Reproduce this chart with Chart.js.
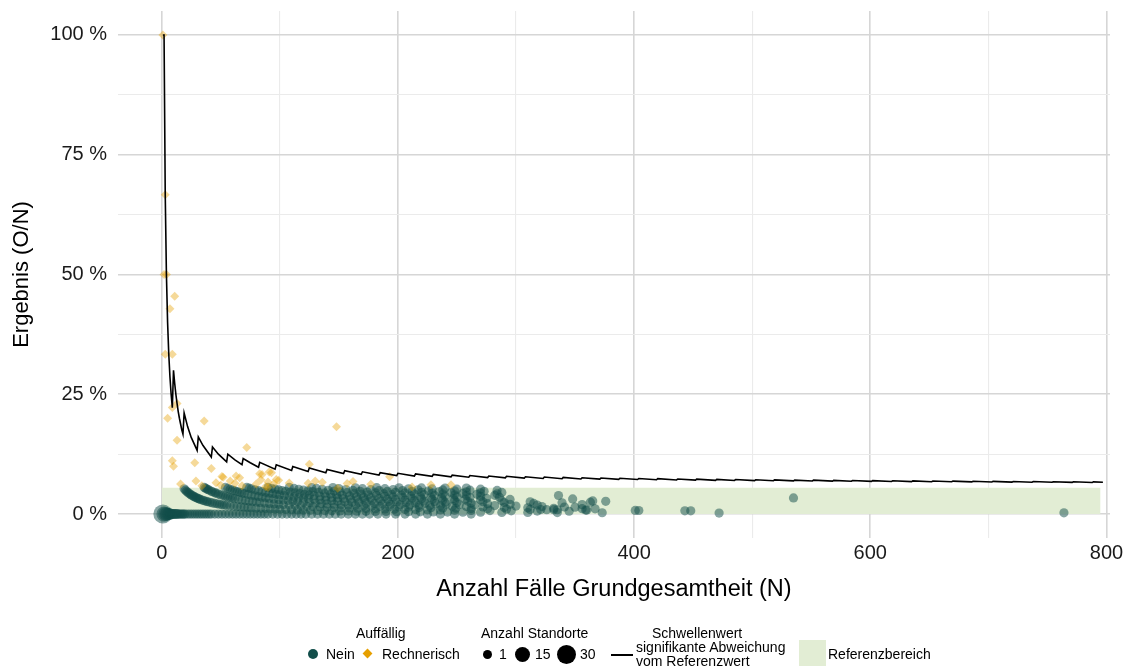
<!DOCTYPE html>
<html>
<head>
<meta charset="utf-8">
<script src="https://cdn.jsdelivr.net/npm/chart.js@4"></script>
<style>
body { margin: 0; background: #fff; font-family: "Liberation Sans", Arial, sans-serif; }
#wrap { position: relative; width: 1130px; height: 666px; overflow: hidden; }
#chart { position: absolute; left: 0; top: 0; }
.lg { position: absolute; font-size: 14px; line-height: 14px; color: #000; white-space: nowrap; }
.dot { position: absolute; border-radius: 50%; background: #000; }
</style>
</head>
<body>
<div id="wrap">
  <canvas id="chart" width="1130" height="666"></canvas>

  <div class="lg" style="left:356px;top:626px">Auffällig</div>
  <div class="dot" style="left:308px;top:649px;width:10px;height:10px;background:#124e4a"></div>
  <div class="lg" style="left:326px;top:647px">Nein</div>
  <div style="position:absolute;left:364px;top:650px;width:7px;height:7px;background:#e69f00;transform:rotate(45deg)"></div>
  <div class="lg" style="left:382px;top:647px">Rechnerisch</div>

  <div class="lg" style="left:481px;top:626px">Anzahl Standorte</div>
  <div class="dot" style="left:483px;top:650px;width:9px;height:9px"></div>
  <div class="lg" style="left:499px;top:647px">1</div>
  <div class="dot" style="left:515px;top:647px;width:15px;height:15px"></div>
  <div class="lg" style="left:535px;top:647px">15</div>
  <div class="dot" style="left:557px;top:645px;width:19px;height:19px"></div>
  <div class="lg" style="left:580px;top:647px">30</div>

  <div style="position:absolute;left:611px;top:654px;width:22px;height:2px;background:#000"></div>
  <div class="lg" style="left:652px;top:626px">Schwellenwert</div>
  <div class="lg" style="left:636px;top:640px">signifikante Abweichung</div>
  <div class="lg" style="left:636px;top:654px">vom Referenzwert</div>

  <div style="position:absolute;left:799px;top:640px;width:27px;height:30px;background:#e2edd4"></div>
  <div class="lg" style="left:828px;top:647px">Referenzbereich</div>
</div>
<script>
// Achsen
const xTicks = [0, 100, 200, 300, 400, 500, 600, 700, 800];
const yTicks = [0, 12.5, 25, 37.5, 50, 62.5, 75, 87.5, 100];
const referenzOben = 5.5;
const referenzBis = 795;

// Schwellenwert (signifikante Abweichung vom Referenzwert)
const schwelleN = [1, 2, 3, 4, 5, 6, 7, 8, 9, 10, 11, 12, 13, 14, 15, 16, 17, 18, 19, 22, 25, 30,
  31, 35, 42, 43, 48, 55, 56, 62, 68, 69, 75, 82, 83, 96, 97, 110, 111, 124, 125, 139, 140, 154,
  155, 169, 170, 184, 185, 199, 200, 214, 215, 229, 230, 245, 246, 260, 261, 276, 277, 291, 292, 307,
  308, 323, 324, 339, 340, 355, 356, 371, 372, 387, 388, 403, 404, 419, 420, 436, 437, 452, 453, 469,
  470, 485, 486, 502, 503, 518, 519, 535, 536, 551, 552, 568, 569, 584, 585, 601, 602, 618, 619, 635,
  636, 652, 653, 669, 670, 686, 687, 703, 704, 720, 721, 737, 738, 754, 755, 771, 772, 788, 789, 797];
const schwellePct = [100, 100, 66.7, 50, 40, 33.3, 28.6, 25, 22.2, 30, 27.3, 25, 23.1, 21.4, 20, 18.8, 17.6, 16.7,
  21.1, 18.2, 16, 13.3, 16.1, 14.3, 11.9, 14, 12.5, 10.9, 12.5, 11.3, 10.3, 11.6, 10.7, 9.76,
  10.8, 9.38, 10.3, 9.09, 9.91, 8.87, 9.6, 8.63, 9.29, 8.44, 9.03, 8.28, 8.82, 8.15, 8.65, 8.04,
  8.5, 7.94, 8.37, 7.86, 8.26, 7.76, 8.13, 7.69, 8.05, 7.61, 7.94, 7.56, 7.88, 7.49, 7.79, 7.43,
  7.72, 7.37, 7.65, 7.32, 7.58, 7.28, 7.53, 7.24, 7.47, 7.2, 7.43, 7.16, 7.38, 7.11, 7.32, 7.08,
  7.28, 7.04, 7.23, 7.01, 7.2, 6.97, 7.16, 6.95, 7.13, 6.92, 7.09, 6.9, 7.07, 6.87, 7.03, 6.85,
  7.01, 6.82, 6.98, 6.8, 6.95, 6.77, 6.92, 6.75, 6.89, 6.73, 6.87, 6.71, 6.84, 6.69, 6.82, 6.67,
  6.8, 6.65, 6.78, 6.63, 6.75, 6.61, 6.74, 6.6, 6.72, 6.65];

// Auffällig = Nein: Fallzahlen N je Anzahl Ereignisse O (Ergebnis = O/N)
const neinO0 = [14, 15, 16, 17, 18, 19, 20, 22, 24, 26, 28, 30, 32, 34, 36, 38, 40, 42, 45, 48, 51, 54, 57, 60,
  63, 66, 69, 72, 75, 78, 81, 84, 87, 90, 94, 98, 102, 106, 110, 114, 118, 122, 127, 132, 137, 142, 147,
  152, 158, 164, 170, 176, 183, 190, 198, 206, 215, 225, 236, 248, 262];
const neinO1 = [19, 20, 21, 22, 23, 24, 25, 26, 27, 28, 29, 30, 31, 32, 33, 35, 36, 38, 39, 41, 43, 45, 47, 49,
  51, 53, 55, 58, 61, 64, 67, 70, 73, 76, 80, 84, 88, 92, 96, 100, 105, 110, 115, 120, 126, 132, 138, 144,
  151, 158, 165, 173, 181, 190, 199, 209, 219, 230, 242, 255, 270, 288, 310, 335];
const neinO2 = [36, 37, 38, 39, 40, 42, 43, 45, 46, 48, 50, 52, 54, 56, 58, 60, 62, 65, 68, 71, 74, 77, 80, 83,
  87, 91, 95, 99, 103, 108, 113, 118, 123, 128, 134, 140, 146, 152, 159, 166, 173, 181, 189, 197, 206, 215,
  225, 236, 248, 262, 278, 296, 318, 345];
const neinO3 = [54, 56, 58, 60, 62, 64, 66, 68, 70, 73, 76, 79, 82, 85, 88, 91, 95, 99, 103, 107, 111, 115, 120,
  125, 130, 135, 140, 146, 152, 158, 164, 171, 178, 185, 193, 201, 209, 218, 228, 238, 249, 262, 276, 292,
  312, 335, 360];
const neinO4 = [72, 74, 76, 79, 82, 85, 88, 91, 94, 97, 100, 104, 108, 112, 116, 120, 124, 129, 134, 139, 144,
  149, 155, 161, 167, 173, 180, 187, 194, 202, 210, 218, 227, 236, 246, 258, 272, 290, 310, 332, 356];
const neinO5 = [90, 93, 96, 99, 102, 105, 109, 113, 117, 121, 125, 129, 134, 139, 144, 149, 154, 160, 166, 172,
  178, 185, 192, 199, 207, 215, 223, 232, 241, 252, 265, 282, 300, 322, 350];
const neinO6 = [108, 112, 116, 120, 124, 128, 133, 138, 143, 148, 153, 159, 165, 171, 177, 184, 191, 198, 206,
  214, 222, 231, 240, 250, 262, 276, 295, 318];
const neinO7 = [127, 131, 136, 141, 146, 151, 157, 163, 169, 175, 182, 189, 196, 204, 212, 220, 229, 238, 248,
  259, 272, 290, 315];
const neinO8 = [145, 150, 156, 162, 168, 174, 181, 188, 195, 203, 211, 219, 228, 237, 247, 257, 270, 288, 312];
const neinO9 = [164, 170, 177, 184, 191, 198, 206, 214, 222, 231, 240, 250, 261, 275, 295];
const neinO10 = [182, 189, 196, 204, 212, 220, 229, 238, 248, 258, 270, 286];
const neinO11 = [201, 209, 217, 226, 235, 245, 255, 267, 282];
const neinO12 = [220, 229, 238, 248, 258, 270, 284];
const neinO13 = [240, 250, 261, 273, 288];
const neinO14 = [258, 270, 284];
const neinReihen = [neinO0, neinO1, neinO2, neinO3, neinO4, neinO5, neinO6, neinO7,
  neinO8, neinO9, neinO10, neinO11, neinO12, neinO13, neinO14];

// weitere einzelne Standorte [N, O]
const neinEinzeln = [[336, 13], [339, 8], [341, 5], [348, 11], [356, 7], [359, 3], [363, 9], [365, 10],
  [367, 4], [373, 1], [376, 10], [321, 3], [326, 3], [332, 3], [401, 3], [404, 3], [443, 3], [448, 3],
  [472, 1], [535, 18], [764, 2]];

// mehrere Standorte mit O = 0 bei kleinen N
const mehrfachN = [1, 2, 3, 4, 5, 6, 7, 8, 9, 10, 11, 12, 13];
const mehrfachStandorte = [30, 14, 10, 8, 6, 5, 4, 3, 2, 2, 2, 2, 2];

// Auffällig = Rechnerisch [N, O]
const rechnerisch = [[1, 1], [3, 2], [2, 1], [4, 2], [3, 1], [9, 3], [11, 5], [7, 3], [13, 3], [9, 2], [5, 1],
  [36, 7], [13, 2], [72, 10], [9, 1], [10, 1], [28, 3], [42, 4], [16, 1], [29, 2], [34, 2], [46, 3], [50, 3],
  [51, 4], [52, 4], [58, 4], [62, 4], [63, 5], [66, 5], [68, 4], [80, 5], [84, 6], [83, 7], [85, 7], [93, 8],
  [90, 6], [88, 5], [97, 7], [148, 27], [125, 13], [91, 8], [99, 7], [108, 7], [95, 6], [90, 5], [124, 8],
  [130, 9], [136, 9], [149, 8], [157, 10], [162, 11], [177, 11], [193, 15], [212, 12], [228, 14], [245, 15]];

const GRUEN = "18,78,74";
const ORANGE = "230,159,0";

const neinPunkte = [];
mehrfachN.forEach((n, i) => neinPunkte.push({ x: n, y: 0, s: mehrfachStandorte[i] }));
neinReihen.forEach((reihe, o) => reihe.forEach(n => neinPunkte.push({ x: n, y: o / n * 100, s: 1 })));
neinEinzeln.forEach(([n, o]) => neinPunkte.push({ x: n, y: o / n * 100, s: 1 }));

const rechnerischPunkte = rechnerisch.map(([n, o]) => ({ x: n, y: o / n * 100 }));
const schwellePunkte = schwelleN.map((n, i) => ({ x: n, y: schwellePct[i] }));

Chart.defaults.font.family = "'Liberation Sans', Arial, sans-serif";

const ctx = document.getElementById("chart").getContext("2d");
new Chart(ctx, {
  type: "scatter",
  data: {
    datasets: [
      {
        type: "line",
        label: "Schwellenwert",
        data: schwellePunkte,
        borderColor: "#000",
        borderWidth: 1.6,
        pointRadius: 0,
        tension: 0,
        fill: false,
        order: 0
      },
      {
        label: "Rechnerisch",
        data: rechnerischPunkte,
        pointStyle: "rectRot",
        pointRadius: 4.5,
        borderWidth: 0,
        backgroundColor: "rgba(" + ORANGE + ",0.4)",
        order: 1
      },
      {
        label: "Nein",
        data: neinPunkte,
        pointRadius: c => 3.5 + 1.1 * Math.sqrt(c.raw.s),
        borderWidth: 0,
        backgroundColor: "rgba(" + GRUEN + ",0.5)",
        order: 2
      },
      {
        type: "line",
        label: "Referenzbereich",
        data: [{ x: 0, y: referenzOben }, { x: referenzBis, y: referenzOben }],
        borderWidth: 0,
        pointRadius: 0,
        backgroundColor: "rgb(226,237,212)",
        fill: "origin",
        order: 3
      }
    ]
  },
  options: {
    responsive: false,
    devicePixelRatio: 1,
    animation: false,
    layout: { padding: { top: 11, right: 20, bottom: 60, left: 0 } },
    plugins: { legend: { display: false }, tooltip: { enabled: false } },
    scales: {
      x: {
        type: "linear",
        min: -37,
        max: 803,
        afterBuildTicks: s => { s.ticks = xTicks.map(v => ({ value: v })); },
        afterFit: s => { s.height = 68; s.paddingLeft = 0; s.paddingRight = 0; },
        border: { display: false },
        grid: {
          drawTicks: false,
          color: c => c.tick && c.tick.value % 200 === 0 ? "#d6d6d6" : "#ebebeb",
          lineWidth: c => c.tick && c.tick.value % 200 === 0 ? 1.6 : 1.1
        },
        ticks: {
          padding: 3,
          color: "#1a1a1a",
          font: { size: 20 },
          maxRotation: 0,
          callback: v => v % 200 === 0 ? String(v) : ""
        },
        title: {
          display: true,
          text: "Anzahl Fälle Grundgesamtheit (N)",
          color: "#000",
          font: { size: 23.5 },
          padding: { top: 0, bottom: 2 }
        }
      },
      y: {
        type: "linear",
        min: -5,
        max: 105,
        afterBuildTicks: s => { s.ticks = yTicks.map(v => ({ value: v })); },
        afterFit: s => { s.width = 118; s.paddingTop = 0; s.paddingBottom = 0; },
        border: { display: false },
        grid: {
          drawTicks: false,
          color: c => c.tick && c.tick.value % 25 === 0 ? "#d6d6d6" : "#ebebeb",
          lineWidth: c => c.tick && c.tick.value % 25 === 0 ? 1.6 : 1.1
        },
        ticks: {
          padding: 11,
          color: "#1a1a1a",
          font: { size: 20 },
          callback: v => v % 25 === 0 ? v + " %" : ""
        },
        title: {
          display: true,
          text: "Ergebnis (O/N)",
          color: "#000",
          font: { size: 22 },
          padding: { top: 9, bottom: 0 }
        }
      }
    }
  }
});
</script>
</body>
</html>
